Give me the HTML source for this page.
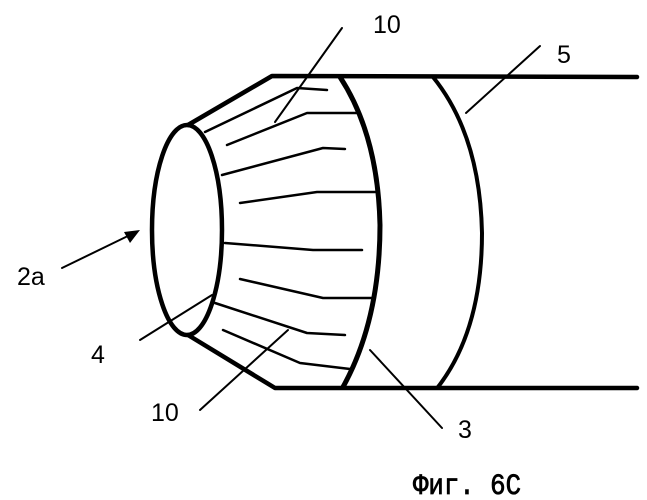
<!DOCTYPE html>
<html><head><meta charset="utf-8"><style>body{margin:0;background:#fff}svg{display:block}</style></head>
<body>
<svg width="647" height="500" viewBox="0 0 647 500" xmlns="http://www.w3.org/2000/svg">
<g fill="none" stroke="#000" stroke-linecap="round" stroke-linejoin="round">
<path d="M188,125 L272,76 L637,77" stroke-width="4.5"/>
<path d="M188,335 L275,388 L637,388" stroke-width="4.5"/>
<ellipse cx="187" cy="230" rx="35" ry="105" stroke-width="4.5"/>
<path d="M340,77 Q378,135 380,225 Q380,320 343,387" stroke-width="5"/>
<path d="M433,77 Q480,135 482,233 Q482,330 438,387" stroke-width="4"/>
<g stroke-width="2.5">
<path d="M205,132 L297,88 L327,90"/>
<path d="M227,145 L307,113 L357,113"/>
<path d="M222,175 L323,148 L345,149"/>
<path d="M240,203 L317,192 L375,192"/>
<path d="M225,243 L313,250 L362,250"/>
<path d="M240,279 L323,298 L372,298"/>
<path d="M215,303 L307,333 L345,335"/>
<path d="M223,330 L300,363 L350,369"/>
</g>
<g stroke-width="2">
<path d="M342,28 L275,122"/>
<path d="M540,46 L466,113"/>
<path d="M62,268 L132,234"/>
<path d="M140,340 L212,295"/>
<path d="M200,410 L288,330"/>
<path d="M442,428 L370,350"/>
</g>
</g>
<path d="M140,230 L124,232 L130,243 Z" fill="#000"/>
<g font-family="Liberation Sans, sans-serif" font-size="25" fill="#000">
<text x="373" y="33">10</text>
<text x="557" y="63">5</text>
<text x="17" y="285">2a</text>
<text x="91" y="363">4</text>
<text x="151" y="421">10</text>
<text x="458" y="438">3</text>
</g>
<text x="413" y="494" font-family="Liberation Mono, DejaVu Sans Mono, monospace" font-size="30" stroke="#000" stroke-width="0.8" textLength="108" lengthAdjust="spacingAndGlyphs">Фиг. 6C</text>
</svg>
</body></html>
